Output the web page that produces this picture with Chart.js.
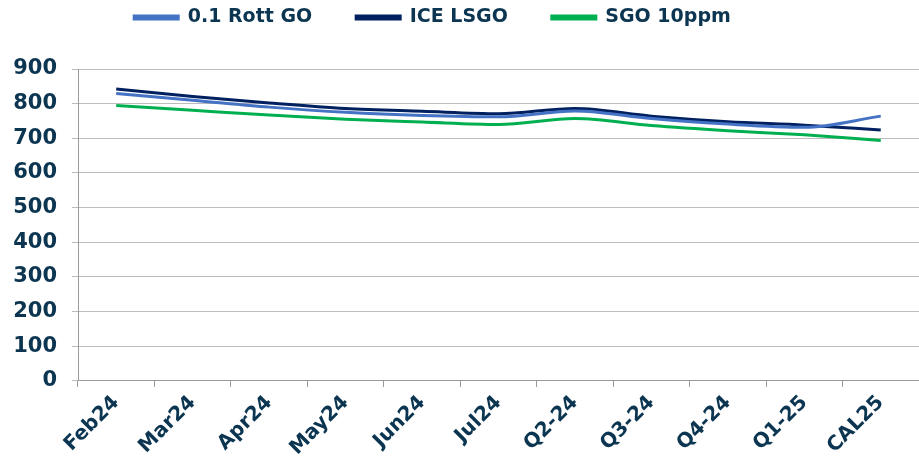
<!DOCTYPE html>
<html>
<head>
<meta charset="utf-8">
<script src="https://cdn.jsdelivr.net/npm/chart.js@4.4.1/dist/chart.umd.min.js"></script>
<style>
  html, body { margin: 0; padding: 0; background: #fff; }
  #wrap { width: 919px; height: 464px; }
</style>
</head>
<body>
<div id="wrap"><canvas id="chart"></canvas></div>
<script>
// Forward curve, gasoil
const labels = ['Feb24', 'Mar24', 'Apr24', 'May24', 'Jun24', 'Jul24', 'Q2-24', 'Q3-24', 'Q4-24', 'Q1-25', 'CAL25'];
const rottGO = [829, 810, 790, 775, 766, 762, 779, 757, 741, 732, 764];
const iceLSGO = [842, 821, 802, 786, 778, 771, 786, 764, 748, 738, 724];
const sgo10ppm = [795, 781, 767, 755, 747, 740, 757, 737, 722, 710, 694];

const textColor = '#0b3550';
const gridColor = '#bcbcbc';
const axisColor = '#9a9a9a';

// legend padding is also the gap between items, so fix its height and pull it up/left
const LEGEND_PAD = 44;
const legendPlace = {
  id: 'legendPlace',
  beforeInit(chart) {
    const legend = chart.legend;
    const fit = legend.fit;
    legend.fit = function () {
      fit.call(this);
      this.height = 69;
    };
  },
  beforeDraw(chart) {
    const lg = chart.legend;
    lg.top = 8 - LEGEND_PAD;
    lg.left -= 27;
    lg.right -= 27;
  }
};

function series(label, data, color) {
  return {
    label,
    data,
    borderColor: color,
    backgroundColor: color,
    borderWidth: 3,
    pointRadius: 0,
    fill: false,
    cubicInterpolationMode: 'monotone',
  };
}

new Chart(document.getElementById('chart').getContext('2d'), {
  type: 'line',
  data: {
    labels,
    datasets: [
      series('0.1 Rott GO', rottGO, '#4472c4'),
      series('ICE LSGO', iceLSGO, '#002060'),
      series('SGO 10ppm', sgo10ppm, '#00b050'),
    ]
  },
  plugins: [legendPlace],
  options: {
    responsive: true,
    maintainAspectRatio: false,
    animation: false,
    layout: { padding: 0 },
    plugins: {
      tooltip: { enabled: false },
      legend: {
        position: 'top',
        labels: {
          color: textColor,
          font: { family: 'DejaVu Sans', size: 19, weight: 'bold' },
          boxWidth: 44,
          boxHeight: 3,
          padding: LEGEND_PAD,
        }
      }
    },
    scales: {
      x: {
        offset: true,
        afterFit(scale) {
          // rotated first label has room already, don't push the plot right
          scale.paddingLeft = 0;
        },
        grid: {
          display: true,
          offset: true,
          drawOnChartArea: false,
          drawTicks: true,
          tickLength: 6,
          color: axisColor,
        },
        border: { color: axisColor, width: 1 },
        ticks: {
          color: textColor,
          font: { family: 'DejaVu Sans', size: 20, weight: 'bold' },
          minRotation: 45,
          maxRotation: 45,
          padding: 4,
        }
      },
      y: {
        min: 0,
        max: 900,
        afterFit(scale) {
          scale.width = 78;
        },
        grid: {
          color: gridColor,
          drawTicks: true,
          tickLength: 6,
        },
        border: { color: axisColor, width: 1 },
        ticks: {
          stepSize: 100,
          color: textColor,
          font: { family: 'DejaVu Sans', size: 21, weight: 'bold' },
          padding: 15,
        }
      }
    }
  }
});
</script>
</body>
</html>
